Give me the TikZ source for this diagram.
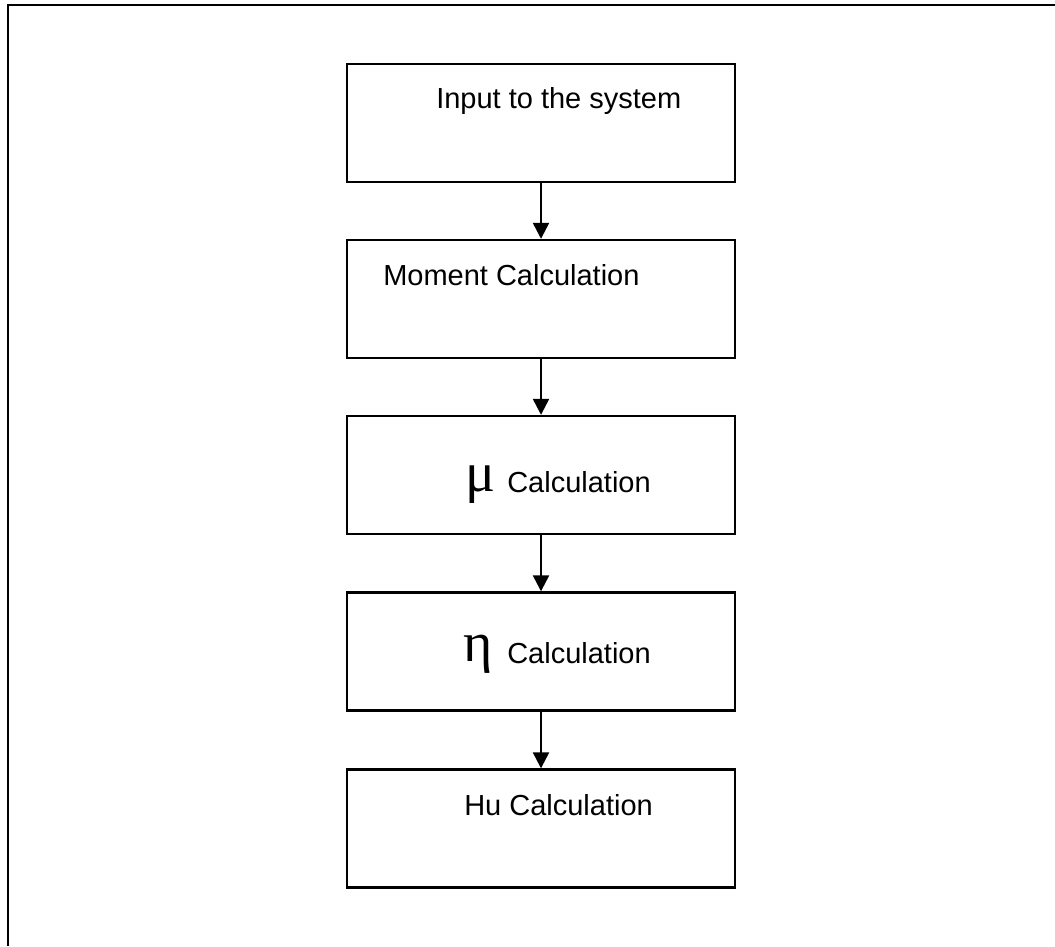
\documentclass[tikz,border=0pt]{standalone}
\usepackage{fontspec}
\setmainfont{Liberation Sans}
\newfontfamily\greekfont{Liberation Serif}
\usetikzlibrary{arrows.meta}
\tikzset{
  box/.style={draw=black, line width=1.8pt, rectangle, minimum width=291pt, minimum height=88.5pt, inner sep=0pt},
  lbl/.style={anchor=base west, inner sep=0pt, font=\fontsize{21.75}{26}\selectfont},
  glbl/.style={anchor=base west, inner sep=0pt, font=\greekfont\fontsize{42}{48}\selectfont},
  flow/.style={line width=1.8pt, -{Triangle[length=12pt,width=12pt]}},
  frame/.style={line width=1.8pt}
}
\begin{document}
\begin{tikzpicture}[x=0.75pt,y=-0.75pt]
\useasboundingbox (0,0) rectangle (1055,946);
\coordinate (fb) at (8,946);
\coordinate (fc) at (8,5);
\coordinate (fr) at (1055,5);
\draw[frame] (fb) -- (fc) -- (fr);

\node[box] (b1) at (541,123) {};
\node[box] (b2) at (541,299) {};
\node[box] (b3) at (541,475) {};
\node[box] (b4) at (541,651.5) {};
\node[box] (b5) at (541,828.5) {};

\node[lbl] (t1) at (436,108) {Input to the system};
\node[lbl] (t2) at (383,285) {Moment Calculation};
\node[glbl] (g3) at (465,491) {μ};
\node[lbl] (t3) at (507,492) {Calculation};
\node[glbl] (g4) at (463,661) {η};
\node[lbl] (t4) at (507,663) {Calculation};
\node[lbl] (t5) at (464,815) {Hu Calculation};

\draw[flow] (b1.south) -- (b2.north);
\draw[flow] (b2.south) -- (b3.north);
\draw[flow] (b3.south) -- (b4.north);
\draw[flow] (b4.south) -- (b5.north);
\end{tikzpicture}
\end{document}
